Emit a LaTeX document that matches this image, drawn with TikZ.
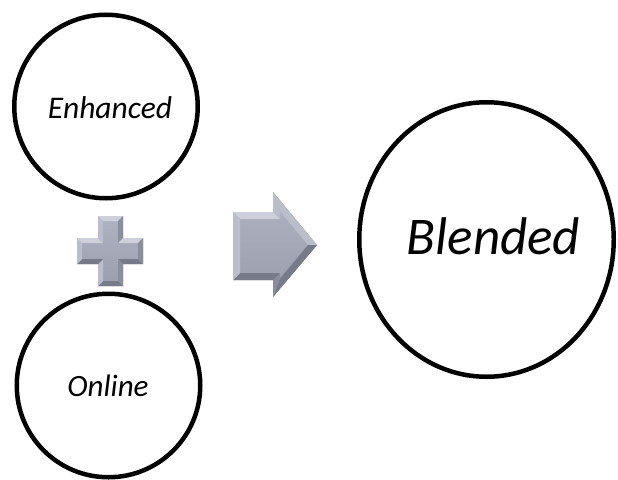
\documentclass[tikz,border=0pt]{standalone}
\usepackage{fontspec}
\setmainfont{Carlito}
\usetikzlibrary{shapes.geometric}
\definecolor{bvface}{HTML}{A3A8B7}
\definecolor{bvfacetop}{HTML}{AFB3C1}
\definecolor{bvfacebot}{HTML}{9A9EAD}
\definecolor{bvlight}{HTML}{CDD0DA}
\definecolor{bvmidlight}{HTML}{BABECA}
\definecolor{bvmiddark}{HTML}{8A8E9D}
\definecolor{bvdark}{HTML}{767A89}
\tikzset{
  ring/.style={circle, draw=black, line width=4.5pt, inner sep=0pt, minimum size=183.5pt},
  bigring/.style={ellipse, draw=black, line width=4.5pt, inner sep=0pt, minimum width=254.5pt, minimum height=274.5pt},
  lbl/.style={font=\itshape, inner sep=0pt, anchor=base},
  flight/.style={fill=bvlight},
  fmidlight/.style={fill=bvmidlight},
  fmiddark/.style={fill=bvmiddark},
  fdark/.style={fill=bvdark},
  shadowfill/.style={fill=black, fill opacity=0.07}
}
\begin{document}
\begin{tikzpicture}[x=1pt,y=-1pt]
\useasboundingbox (0,0) rectangle (618,479);
% circles
\node[ring] (enh) at (106,106.5) {};
\node[ring] (onl) at (108.5,385.5) {};
\node[bigring] (bld) at (486.5,239.5) {};
\node[lbl, font=\fontsize{31.5}{31.5}\selectfont\itshape] (enhT) at (110,118) {Enhanced};
\node[lbl, font=\fontsize{31}{31}\selectfont\itshape] (onlT) at (108,396) {Online};
\node[lbl, font=\fontsize{53}{53}\selectfont\itshape] (bldT) at (493.5,254) {Blended};
% ---------- plus sign ----------
\coordinate (p1) at (98,216);  \coordinate (p2) at (123,216);
\coordinate (p3) at (123,238); \coordinate (p4) at (143,238);
\coordinate (p5) at (143,264); \coordinate (p6) at (123,264);
\coordinate (p7) at (123,286); \coordinate (p8) at (98,286);
\coordinate (p9) at (98,264);  \coordinate (p10) at (77,264);
\coordinate (p11) at (77,238); \coordinate (p12) at (98,238);
\coordinate (q1) at (103,221);  \coordinate (q2) at (118,221);
\coordinate (q3) at (118,243);  \coordinate (q4) at (138,243);
\coordinate (q5) at (138,259);  \coordinate (q6) at (118,259);
\coordinate (q7) at (118,281);  \coordinate (q8) at (103,281);
\coordinate (q9) at (103,259);  \coordinate (q10) at (82,259);
\coordinate (q11) at (82,243);  \coordinate (q12) at (103,243);
% shadow
\foreach \s in {2,4,6}{
\fill[shadowfill, shift={(0,\s)}] (p1)--(p2)--(p3)--(p4)--(p5)--(p6)--(p7)--(p8)--(p9)--(p10)--(p11)--(p12)--cycle;}
% face
\shade[top color=bvfacetop, bottom color=bvfacebot] (p1)--(p2)--(p3)--(p4)--(p5)--(p6)--(p7)--(p8)--(p9)--(p10)--(p11)--(p12)--cycle;
% facets
\fill[flight]     (p1)--(p2)--(q2)--(q1)--cycle;
\fill[fmiddark]   (p2)--(p3)--(q3)--(q2)--cycle;
\fill[flight]     (p3)--(p4)--(q4)--(q3)--cycle;
\fill[fmiddark]   (p4)--(p5)--(q5)--(q4)--cycle;
\fill[fdark]      (p5)--(p6)--(q6)--(q5)--cycle;
\fill[fmiddark]   (p6)--(p7)--(q7)--(q6)--cycle;
\fill[fdark]      (p7)--(p8)--(q8)--(q7)--cycle;
\fill[fmidlight]  (p8)--(p9)--(q9)--(q8)--cycle;
\fill[fdark]      (p9)--(p10)--(q10)--(q9)--cycle;
\fill[fmidlight]  (p10)--(p11)--(q11)--(q10)--cycle;
\fill[flight]     (p11)--(p12)--(q12)--(q11)--cycle;
\fill[fmidlight]  (p12)--(p1)--(q1)--(q12)--cycle;
% ---------- arrow ----------
\coordinate (a1) at (233,212); \coordinate (a2) at (273,212);
\coordinate (a3) at (273,192); \coordinate (a4) at (317,245);
\coordinate (a5) at (273,297); \coordinate (a6) at (273,280);
\coordinate (a7) at (233,280);
\coordinate (b1) at (240,219); \coordinate (b2) at (280,219);
\coordinate (b3) at (280,211.4); \coordinate (b4) at (308,245);
\coordinate (b5) at (280,278.6); \coordinate (b6) at (280,273);
\coordinate (b7) at (240,273);
\foreach \s in {2,4,6}{
\fill[shadowfill, shift={(0,\s)}] (a1)--(a2)--(a3)--(a4)--(a5)--(a6)--(a7)--cycle;}
\shade[top color=bvfacetop, bottom color=bvfacebot] (a1)--(a2)--(a3)--(a4)--(a5)--(a6)--(a7)--cycle;
\fill[flight]    (a1)--(a2)--(b2)--(b1)--cycle;
\fill[fmidlight] (a2)--(a3)--(b3)--(b2)--cycle;
\fill[fmidlight] (a3)--(a4)--(b4)--(b3)--cycle;
\fill[fdark]     (a4)--(a5)--(b5)--(b4)--cycle;
\fill[fmiddark]  (a5)--(a6)--(b6)--(b5)--cycle;
\fill[fdark]     (a6)--(a7)--(b7)--(b6)--cycle;
\fill[fmidlight] (a7)--(a1)--(b1)--(b7)--cycle;
\end{tikzpicture}
\end{document}
